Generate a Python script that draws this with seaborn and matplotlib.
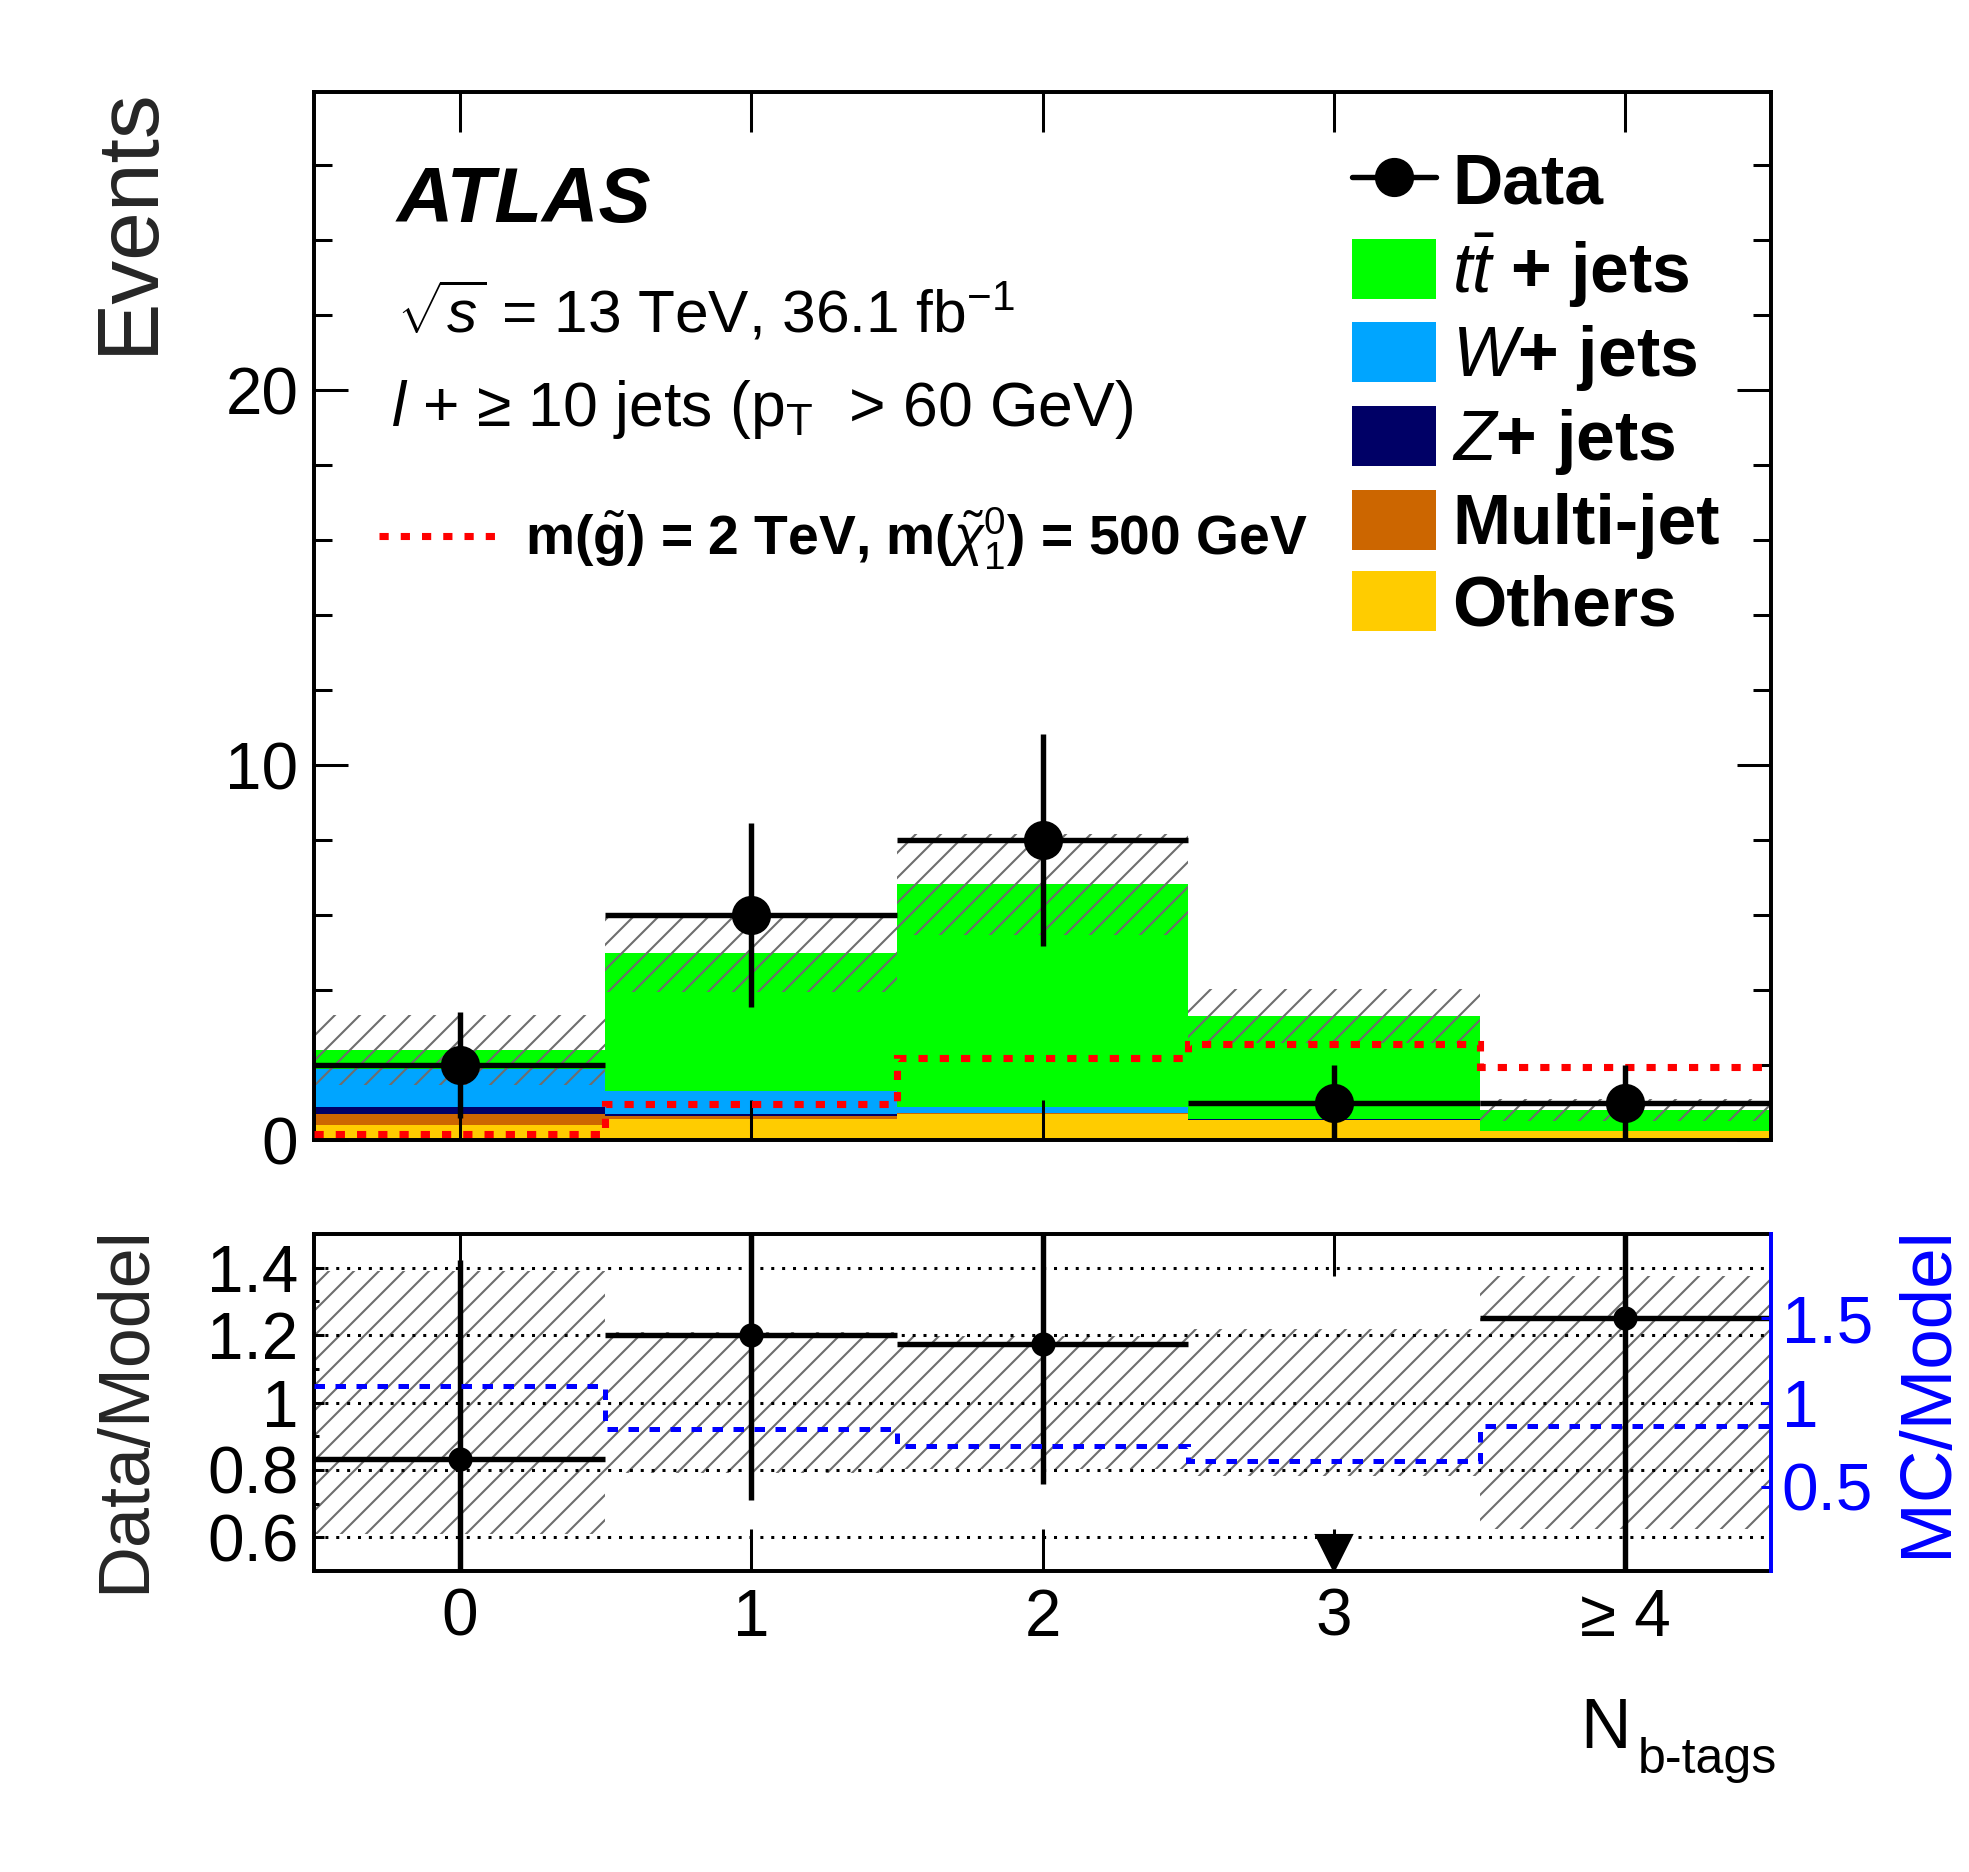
import numpy as np
import pandas as pd
import matplotlib
matplotlib.use("Agg")
import matplotlib.pyplot as plt
import matplotlib.patches as mpatches
from matplotlib.lines import Line2D
from matplotlib.ticker import MultipleLocator, FuncFormatter
import seaborn as sns

# ------------------------------
# Data
# ------------------------------
nbtag = [0, 1, 2, 3, 4]
nbtag_labels = ["0", "1", "2", "3", "≥ 4"]
edges = [-0.5, 0.5, 1.5, 2.5, 3.5, 4.5]

# background stack, events per bin
ttbar    = [0.50, 3.69, 5.93, 2.74, 0.56]
wjets    = [1.01, 0.61, 0.17, 0.01, 0.00]
zjets    = [0.20, 0.06, 0.01, 0.02, 0.00]
multijet = [0.30, 0.09, 0.02, 0.00, 0.00]
others   = [0.39, 0.55, 0.69, 0.54, 0.24]
mc_unc   = [0.94, 1.05, 1.35, 0.72, 0.30]   # total model uncertainty

data = [2, 6, 8, 1, 1]
signal = [0.15, 0.96, 2.20, 2.55, 1.95]      # m(gluino)=2 TeV, m(chi)=500 GeV
mc_over_model = [1.10, 0.84, 0.74, 0.65, 0.86]

procs = ["ttbar", "wjets", "zjets", "multijet", "others"]
proc_labels = [r"$t\bar{t}$ + jets", r"$W$+ jets", r"$Z$+ jets", "Multi-jet", "Others"]
proc_colors = ["#00ff00", "#00a5ff", "#000066", "#cc6600", "#ffcc00"]

# ------------------------------
# Style
# ------------------------------
sns.set_theme(style="ticks")
plt.rcParams["font.family"] = ["Liberation Sans", "DejaVu Sans"]
plt.rcParams.update({
    "mathtext.fontset": "custom",
    "mathtext.rm": "Liberation Sans",
    "mathtext.it": "Liberation Sans:italic",
    "mathtext.bf": "Liberation Sans:bold",
    "axes.edgecolor": "black",
    "axes.linewidth": 1.9,
    "text.color": "black",
    "xtick.color": "black",
    "ytick.color": "black",
    "hatch.linewidth": 1.0,
    "hatch.color": "#6e6e6e",
})

HATCH_COL = "#6e6e6e"
SIG_STYLE = dict(color="red", lw=3.4, ls=(0, (1.3, 1.7)))
TICK_FS = 31.5

fig = plt.figure(figsize=(1969 / 150, 1872 / 150), dpi=150)
ax = fig.add_axes([0.1595, 0.3910, 0.7400, 0.5598])
ax_r = fig.add_axes([0.1595, 0.1608, 0.7400, 0.1800])

stack = pd.DataFrame({
    "nb": np.tile(nbtag, len(procs)),
    "events": np.concatenate([ttbar, wjets, zjets, multijet, others]),
    "process": np.repeat(procs, len(nbtag)),
})

x = np.array(nbtag)
total = np.array(ttbar) + np.array(wjets) + np.array(zjets) + np.array(multijet) + np.array(others)
unc = np.array(mc_unc)
d = np.array(data, dtype=float)
derr = np.sqrt(d)

# ------------------------------
# Main panel
# ------------------------------
sns.histplot(data=stack, x="nb", weights="events", hue="process", hue_order=procs,
             multiple="stack", bins=edges, palette=dict(zip(procs, proc_colors)),
             element="bars", alpha=1, linewidth=0, legend=False, ax=ax)

ax.bar(x, 2 * unc, bottom=total - unc, width=1, fill=False, hatch="//",
       edgecolor=HATCH_COL, linewidth=0, zorder=2)
ax.stairs(signal, edges, baseline=None, zorder=3, **SIG_STYLE)
ax.errorbar(x, d, xerr=0.5, yerr=derr, fmt="o", color="black", ms=17.8,
            elinewidth=2.6, capsize=0, zorder=5)

ax.set_xlim(-0.5, 4.5)
ax.set_ylim(0, 27.95)
ax.set_axisbelow(False)
ax.set_xticks(x)
ax.yaxis.set_major_locator(MultipleLocator(10))
ax.yaxis.set_minor_locator(MultipleLocator(2))
ax.tick_params(axis="x", which="both", direction="in", top=True, bottom=True,
               length=19, width=1.45, labelbottom=False)
ax.tick_params(axis="y", which="major", direction="in", left=True, right=True,
               length=16.3, width=1.45, labelsize=TICK_FS, pad=7.5)
ax.tick_params(axis="y", which="minor", direction="in", left=True, right=True,
               length=8.6, width=1.45)
ax.set_xlabel("")
ax.set_ylabel("Events", fontsize=42, loc="top")
ax.yaxis.set_label_coords(-0.099, 1.005)

ax.text(0.057, 0.876, "ATLAS", transform=ax.transAxes, fontsize=37.5,
        fontweight="bold", fontstyle="italic", va="baseline")
ax.text(0.057, 0.771, r"$\sqrt{s}$ = 13 TeV, 36.1 fb$^{-1}$", transform=ax.transAxes,
        fontsize=29, va="baseline")
ax.text(0.053, 0.681, r"$l$ + ≥ 10 jets (p$_{\mathrm{T}}$  > 60 GeV)", transform=ax.transAxes,
        fontsize=30, va="baseline")

handles = [Line2D([], [], color="black", marker="o", ms=17.8, lw=2.6)]
handles += [mpatches.Patch(facecolor=c, edgecolor="none") for c in proc_colors]
leg = ax.legend(handles, ["Data"] + proc_labels, loc="upper left",
                bbox_to_anchor=(0.7125, 0.945), frameon=False,
                prop={"weight": "bold", "size": 33.5}, handlelength=1.2,
                handleheight=0.95, handletextpad=0.23, labelspacing=0.18,
                borderpad=0, borderaxespad=0)
ax.add_artist(leg)

sig_handle = Line2D([], [], **SIG_STYLE)
ax.legend([sig_handle], [r"m($\tilde{\mathbf{g}}$) = 2 TeV, m($\tilde{\chi}^{0}_{1}$) = 500 GeV"],
          loc="center left", bbox_to_anchor=(0.0446, 0.574), frameon=False,
          prop={"weight": "bold", "size": 26.5}, handlelength=2.25, handletextpad=0.4,
          borderpad=0, borderaxespad=0)

# ------------------------------
# Ratio panel
# ------------------------------
rel = unc / total
ratio = d / total
ratio_err = derr / total
shown = ratio >= 0.5
ARROW_Y = 0.552

ax_r.bar(x, 2 * rel, bottom=1 - rel, width=1, fill=False, hatch="//",
         edgecolor=HATCH_COL, linewidth=0, zorder=2)
ax_r.errorbar(x[shown], ratio[shown], xerr=0.5, yerr=ratio_err[shown], fmt="o",
              color="black", ms=10.6, elinewidth=2.6, capsize=0, zorder=5)
ax_r.plot(x[~shown], np.full((~shown).sum(), ARROW_Y), ls="none", marker="v",
          color="black", ms=17.5, zorder=5)

ax_r.set_xlim(-0.5, 4.5)
ax_r.set_ylim(0.5, 1.5)
ax_r.set_axisbelow(False)
ax_r.set_yticks([0.6, 0.8, 1.0, 1.2, 1.4])
ax_r.yaxis.set_minor_locator(MultipleLocator(0.1))
ax_r.yaxis.set_major_formatter(FuncFormatter(lambda v, p: f"{v:g}"))
ax_r.set_xticks(x, nbtag_labels)
ax_r.grid(axis="y", which="major", color="black", lw=1.45, ls=(0, (1.0, 2.6)))
ax_r.tick_params(axis="x", direction="in", top=True, bottom=True, length=20,
                 width=1.45, labelsize=TICK_FS, pad=8)
ax_r.tick_params(axis="y", which="major", direction="in", left=True, right=False,
                 length=5, width=1.45, labelsize=TICK_FS, pad=7.5)
ax_r.tick_params(axis="y", which="minor", direction="in", left=True, right=False,
                 length=2.5, width=1.45)
ax_r.spines["right"].set_visible(False)
ax_r.set_ylabel("Data/Model", fontsize=34.5, loc="top")
ax_r.yaxis.set_label_coords(-0.106, 1.025)

ax_r.text(0.869, -0.525, "N", transform=ax_r.transAxes, fontsize=33.5, va="baseline")
ax_r.text(0.9087, -0.599, "b-tags", transform=ax_r.transAxes, fontsize=24, va="baseline")

ax2 = ax_r.twinx()
ax2.stairs(mc_over_model, edges, baseline=None, color="blue", lw=2.4,
           ls=(0, (2.1, 2.1)), zorder=4)
ax2.set_ylim(0, 2)
ax2.set_yticks([0.5, 1.0, 1.5])
ax2.yaxis.set_major_formatter(FuncFormatter(lambda v, p: f"{v:g}"))
ax2.tick_params(axis="y", direction="in", colors="blue", length=5, width=1.45,
                labelsize=TICK_FS, pad=5)
for side in ["top", "left", "bottom"]:
    ax2.spines[side].set_visible(False)
ax2.spines["right"].set_color("blue")
ax2.set_ylabel("MC/Model", fontsize=35, color="blue", loc="top")
ax2.yaxis.set_label_coords(1.084, 1.025)

fig.savefig("out.png", dpi=150)
